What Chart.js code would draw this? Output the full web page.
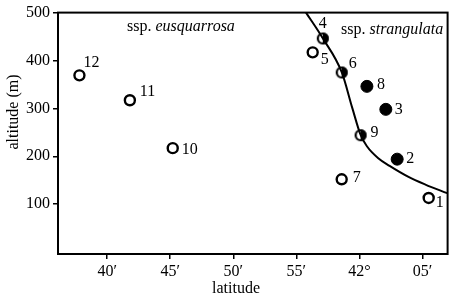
<!DOCTYPE html>
<html>
<head>
<meta charset="utf-8">
<script src="https://cdn.jsdelivr.net/npm/chart.js@4"></script>
<style>
  html, body { margin: 0; padding: 0; background: #fff; }
  #wrap { width: 455px; height: 303px; }
</style>
</head>
<body>
<div id="wrap"><canvas id="myChart"></canvas></div>
<script>
// site data (latitude in minutes past 41°, altitude in m)
const siteIds = ['1', '2', '3', '4', '5', '6', '7', '8', '9', '10', '11', '12'];
const latitudeMin = [65.5, 63.0, 62.1, 57.1, 56.3, 58.6, 58.6, 60.6, 60.1, 45.2, 41.8, 37.8];
const altitudeM = [113, 194, 298, 446, 417, 375, 152, 346, 244, 217, 317, 369];
const siteType = ['open', 'filled', 'filled', 'half', 'open', 'half', 'open', 'filled', 'half', 'open', 'open', 'open'];

// boundary between the two subspecies
const boundaryLat = [55.77, 57.11, 58.61, 59.45, 60.11, 60.6, 61.5, 62.4, 63.9, 65.24, 66.97];
const boundaryAlt = [500, 446, 375, 300, 244, 221, 196, 180, 157, 141, 123];

const xTicks = [40, 45, 50, 55, 60, 65];
const xTickLabels = ['40\u2032', '45\u2032', '50\u2032', '55\u2032', '42\u00b0', '05\u2032'];
const yTicks = [100, 200, 300, 400, 500];

// label offsets from the marker centre
const labelOffsets = {
  '1': [7, 5], '2': [9, 0], '3': [9, 0], '4': [-4, -15], '5': [8, 7], '6': [7, -9],
  '7': [11, -1], '8': [10, -2], '9': [10, -2], '10': [9, 2], '11': [10, -8], '12': [4, -13]
};

const FONT = '"Liberation Serif", "Times New Roman", serif';

function halfDot(r) {
  const c = document.createElement('canvas');
  const s = 2 * r + 4;
  c.width = s; c.height = s;
  const g = c.getContext('2d');
  const m = s / 2;
  g.fillStyle = '#fff';
  g.beginPath(); g.arc(m, m, r, 0, 2 * Math.PI); g.fill();
  g.fillStyle = '#000';
  g.beginPath(); g.arc(m, m, r, -Math.PI / 2, Math.PI / 2); g.closePath(); g.fill();
  g.lineWidth = 2.2; g.strokeStyle = '#000';
  g.beginPath(); g.arc(m, m, r - 1, 0, 2 * Math.PI); g.stroke();
  return c;
}

function pointsOf(type) {
  const out = [];
  siteIds.forEach((id, i) => {
    if (siteType[i] === type) out.push({ x: latitudeMin[i], y: altitudeM[i] });
  });
  return out;
}

const framePlugin = {
  id: 'frame',
  afterDatasetsDraw(chart) {
    const { ctx, chartArea: a, scales } = chart;
    ctx.save();
    ctx.strokeStyle = '#000';
    ctx.lineWidth = 2;
    ctx.strokeRect(a.left, a.top, a.right - a.left, a.bottom - a.top);

    ctx.fillStyle = '#000';
    ctx.font = '16px ' + FONT;
    ctx.textBaseline = 'middle';
    ctx.textAlign = 'left';
    siteIds.forEach((id, i) => {
      const px = scales.x.getPixelForValue(latitudeMin[i]);
      const py = scales.y.getPixelForValue(altitudeM[i]);
      const o = labelOffsets[id];
      ctx.fillText(id, px + o[0], py + o[1]);
    });

    // subspecies captions
    function caption(x, y, plain, ital) {
      ctx.font = '16px ' + FONT;
      ctx.fillText(plain, x, y);
      const w = ctx.measureText(plain).width;
      ctx.font = 'italic 16px ' + FONT;
      ctx.fillText(ital, x + w, y);
    }
    caption(127, 27, 'ssp. ', 'eusquarrosa');
    caption(341, 30, 'ssp. ', 'strangulata');

    // axis titles
    ctx.font = '16px ' + FONT;
    ctx.textAlign = 'center';
    ctx.fillText('latitude', 236, 289);
    ctx.translate(14, 112);
    ctx.rotate(-Math.PI / 2);
    ctx.fillText('altitude (m)', 0, 0);
    ctx.restore();
  }
};

const ctx = document.getElementById('myChart').getContext('2d');
const myChart = new Chart(ctx, {
  type: 'scatter',
  data: {
    datasets: [
      {
        label: 'boundary',
        data: boundaryLat.map((x, i) => ({ x: x, y: boundaryAlt[i] })),
        showLine: true,
        borderColor: '#000',
        borderWidth: 2,
        pointRadius: 0,
        cubicInterpolationMode: 'monotone'
      },
      {
        label: 'open',
        data: pointsOf('open'),
        pointRadius: 5,
        pointBorderWidth: 2.4,
        pointBorderColor: '#000',
        pointBackgroundColor: '#fff'
      },
      {
        label: 'filled',
        data: pointsOf('filled'),
        pointRadius: 6,
        pointBorderWidth: 1,
        pointBorderColor: '#000',
        pointBackgroundColor: '#000'
      },
      {
        label: 'half',
        data: pointsOf('half'),
        pointStyle: halfDot(6),
        pointRadius: 6
      }
    ]
  },
  options: {
    responsive: true,
    maintainAspectRatio: false,
    animation: false,
    layout: { padding: { left: 0, right: 6, top: 12, bottom: 0 } },
    plugins: {
      legend: { display: false },
      tooltip: { enabled: false }
    },
    scales: {
      x: {
        type: 'linear',
        min: 36.1,
        max: 67,
        afterBuildTicks: (s) => { s.ticks = xTicks.map(v => ({ value: v })); },
        afterFit: (s) => { s.height = 49; },
        border: { display: false },
        grid: { drawOnChartArea: false, drawTicks: true, tickLength: 5, color: '#000', lineWidth: 1.5 },
        ticks: {
          color: '#000',
          padding: 3,
          maxRotation: 0,
          font: { family: FONT, size: 16 },
          callback: (v) => xTickLabels[xTicks.indexOf(v)]
        }
      },
      y: {
        min: -4,
        max: 500,
        afterBuildTicks: (s) => { s.ticks = yTicks.map(v => ({ value: v })); },
        afterFit: (s) => { s.width = 58; },
        border: { display: false },
        grid: { drawOnChartArea: false, drawTicks: true, tickLength: 5, color: '#000', lineWidth: 1.5 },
        ticks: {
          color: '#000',
          padding: 3,
          font: { family: FONT, size: 16 }
        }
      }
    }
  },
  plugins: [framePlugin]
});
</script>
</body>
</html>
